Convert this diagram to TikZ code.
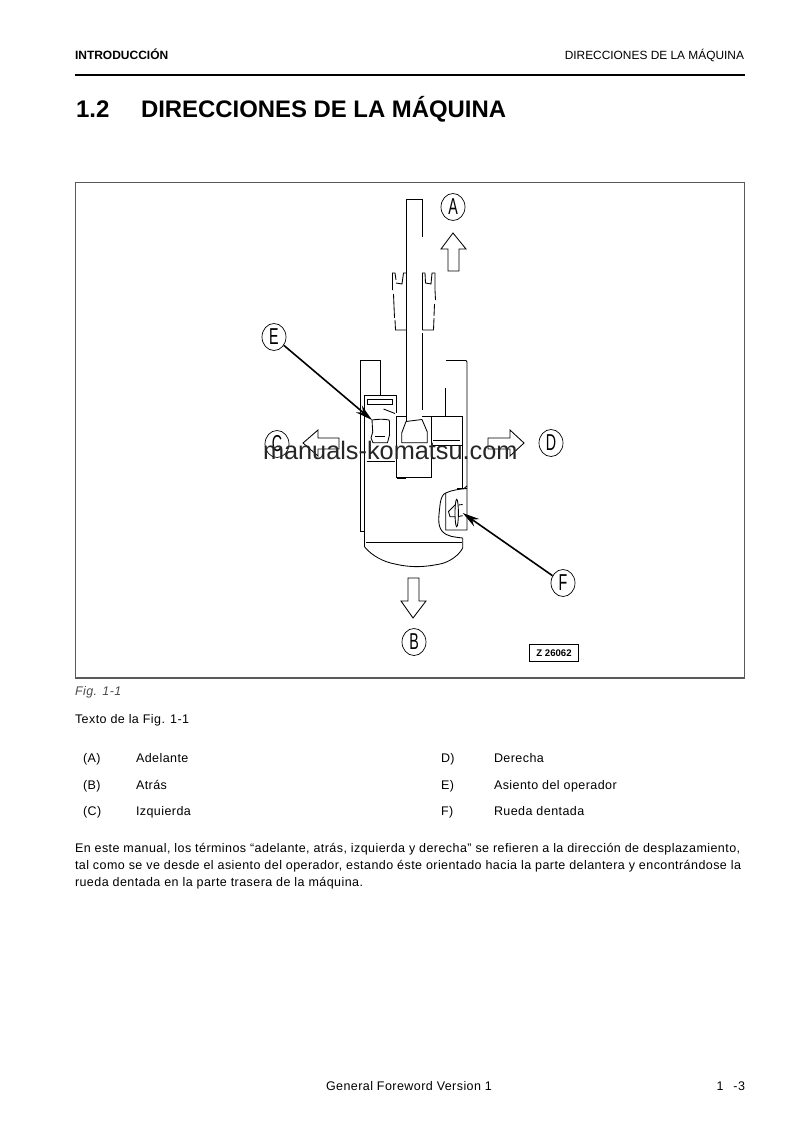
\documentclass[tikz,border=0pt]{standalone}
\usepackage{graphicx}
\usepackage{fontspec}
\setmainfont{Liberation Sans}
\newfontfamily\bodyf[LetterSpace=3.5]{Liberation Sans}
\usetikzlibrary{shapes.geometric,arrows.meta}
\newcommand{\narrowletter}[1]{\scalebox{.62}[1]{\fontsize{23}{23}\selectfont #1}}
\tikzset{
  txt/.style={anchor=base west,inner sep=0pt,outer sep=0pt,font=\bodyf\fontsize{12.5}{12.5}\selectfont},
  txtr/.style={anchor=base east,inner sep=0pt,outer sep=0pt,font=\bodyf\fontsize{12.5}{12.5}\selectfont},
  letter/.style={draw,ellipse,line width=.7pt,inner sep=0pt,minimum width=24pt,minimum height=27pt},
  ln/.style={line width=.85pt,line join=miter},
  big/.style={-{Stealth[length=17pt,width=9pt]},line width=1.6pt},
}
\begin{document}
\begin{tikzpicture}[x=1pt,y=-1pt]
\useasboundingbox (0,0) rectangle (793,1123);
\fill[white] (0,0) rectangle (793,1123);
% header
\node[txt,font=\fontsize{12}{12}\selectfont\bfseries] (h1) at (75,59.5) {INTRODUCCIÓN};
\node[txtr,font=\fontsize{11.9}{12}\selectfont] (h2) at (744,59.5) {DIRECCIONES DE LA MÁQUINA};
\draw[line width=2pt] (75,75.5) -- (745,75.5);
\node[txt,font=\fontsize{24}{24}\selectfont\bfseries] (t1) at (76,118) {1.2};
\node[txt,font=\fontsize{23.9}{24}\selectfont\bfseries] (t2) at (141,118) {DIRECCIONES DE LA MÁQUINA};
% frame
\draw[line width=1.5pt,black!65] (75.5,182.5) rectangle (744.5,678);
% boom
\begin{scope}[ln]
\draw (406,421) -- (406,199) -- (422,199) -- (422,237);
\draw (422,273) -- (422,330);
\draw (422,333) -- (422,410);
% bucket
\draw (392.5,290) -- (392.5,273) -- (395,273) -- (396,280) (396,283) -- (402,284) -- (403.5,273) -- (406,273);
\draw (393.5,294) -- (394.5,318) (395,320) -- (395.5,330) -- (406,330);
\draw (422,273) -- (425,273) (425,273) -- (425.5,283) -- (431,284) -- (432,273) -- (435,273) -- (435,290) -- (435.5,300);
\draw (434.5,304) -- (434,316) (434,318) -- (433.5,330) -- (422,330);
% tracks
\draw (364.5,531) -- (360.5,531) -- (360.5,360.5) -- (380.5,360.5) -- (380.5,395);
\draw (446,360.5) -- (466,360.5) -- (467,362) -- (467,530) -- (445.7,530) -- (445.7,493);
\draw (457,488.5) -- (464,488.5) -- (467,486);
% body
\draw (396.5,395) -- (364.7,395) -- (364.7,547);
\draw (364.7,547) .. controls (372,556) and (384,562) .. (395,564) .. controls (412,568) and (425,567) .. (440,564) .. controls (450,562) and (459,555) .. (462.7,548) -- (462.7,538);
\draw (462.7,538) .. controls (455,537) and (447,537) .. (442,531) .. controls (437,525) and (439,515) .. (440,505) .. controls (441,497) and (443,494) .. (445.7,493) .. controls (452,490) and (460,489) .. (467,488.5);
\draw (366,542.7) -- (461.7,542.7);
\draw (462.7,416) -- (462.7,488);
\draw (396.7,395) -- (396.7,413);
\draw (396.7,416) -- (396.7,477.5) -- (431.7,477.5) -- (431.7,416);
\draw[line width=1.4pt] (397,478) -- (406,478);
\draw (396.7,416) -- (406,416) (422,416) -- (462.7,416);
\draw (445.3,388) -- (445.3,416);
\draw (431.7,445) -- (462.7,445);
\draw (433,440.5) -- (460,440.5);
% cylinder
\draw (406,421.5) -- (401.7,433) -- (401.7,442.7) -- (427.3,442.7) -- (427.3,432) -- (422,419.5);
\draw (406,421.5) -- (422,419.5);
% seat panel
\draw (367.7,399) rectangle (392.3,404);
\draw (383.5,409) -- (395,413.5);
% seat
\draw (372,420) .. controls (378,419) and (385,419) .. (389,420) -- (389.5,422) -- (389.5,435) -- (387.5,442.7) -- (373,442.7) -- (371,438) -- (372.7,432) -- cycle;
\draw (375,436.7) -- (385,436.7);
\draw (366.7,461) -- (395,461);
% sprocket
\draw (456.7,513) ellipse [x radius=1.7,y radius=13.7];
\draw (458.3,505) -- (462.7,504.5) (458.3,516.5) -- (462.7,515.7);
\draw (455,505) -- (448.5,511.5) -- (450,516.7) -- (455,516.7);
\end{scope}
% direction arrows
\begin{scope}[ln]
\draw (453,233) -- (466,249) -- (459,249) -- (459,271) -- (448,271) -- (448,249) -- (441,249) -- cycle;
\draw (413,618) -- (426,601) -- (419,601) -- (419,578) -- (408,578) -- (408,601) -- (401,601) -- cycle;
\draw (303,443) -- (318,430) -- (318,438) -- (339,438) -- (339,449) -- (318,449) -- (318,456) -- cycle;
\draw (524,443) -- (510,430) -- (510,438) -- (488,438) -- (488,449) -- (510,449) -- (510,456) -- cycle;
\end{scope}
% labels
\node[letter] (A) at (453,207) {\narrowletter{A}};
\node[letter] (B) at (414,642) {\narrowletter{B}};
\node[letter] (C) at (277,444) {\narrowletter{C}};
\node[letter] (D) at (551,443) {\narrowletter{D}};
\node[letter] (E) at (274,337) {\narrowletter{E}};
\node[letter] (F) at (563,583) {\narrowletter{F}};
\coordinate (etip) at (372,420);
\coordinate (ftip) at (462.7,513);
\draw[big] (E) -- (etip);
\draw[big] (F) -- (ftip);
% stamp
\node[draw,line width=1.6pt,inner sep=0pt,minimum width=49pt,minimum height=17pt,font=\fontsize{9.6}{10}\selectfont\bfseries] (stamp) at (554,653) {Z 26062};
% watermark
\node[txt,font=\fontsize{25.3}{26}\selectfont,black!85] (wm) at (263,459.5) {manuals-komatsu.com};
% caption
\node[txt,font=\bodyf\fontsize{12.5}{12.5}\selectfont\itshape,black!70] (fig) at (75,695) {Fig. 1-1};
\node[txt] (tx) at (75,723) {Texto de la Fig. 1-1};
\node[txt] (a1) at (83,762) {(A)};
\node[txt] (a2) at (136,762) {Adelante};
\node[txt] (b1) at (83,789) {(B)};
\node[txt] (b2) at (136,789) {Atrás};
\node[txt] (c1) at (83,815) {(C)};
\node[txt] (c2) at (136,815) {Izquierda};
\node[txt] (d1) at (441,762) {D)};
\node[txt] (d2) at (494,762) {Derecha};
\node[txt] (e1) at (441,789) {E)};
\node[txt] (e2) at (494,789) {Asiento del operador};
\node[txt] (f1) at (441,815) {F)};
\node[txt] (f2) at (494,815) {Rueda dentada};
\node[txt] (p1) at (75,852) {En este manual, los términos “adelante, atrás, izquierda y derecha” se refieren a la dirección de desplazamiento,};
\node[txt] (p2) at (75,869) {tal como se ve desde el asiento del operador, estando éste orientado hacia la parte delantera y encontrándose la};
\node[txt] (p3) at (75,886) {rueda dentada en la parte trasera de la máquina.};
\node[txt] (foot) at (326,1090) {General Foreword Version 1};
\node[txtr] (pg) at (745,1090) {1\hspace{10pt}-3};
\end{tikzpicture}
\end{document}
